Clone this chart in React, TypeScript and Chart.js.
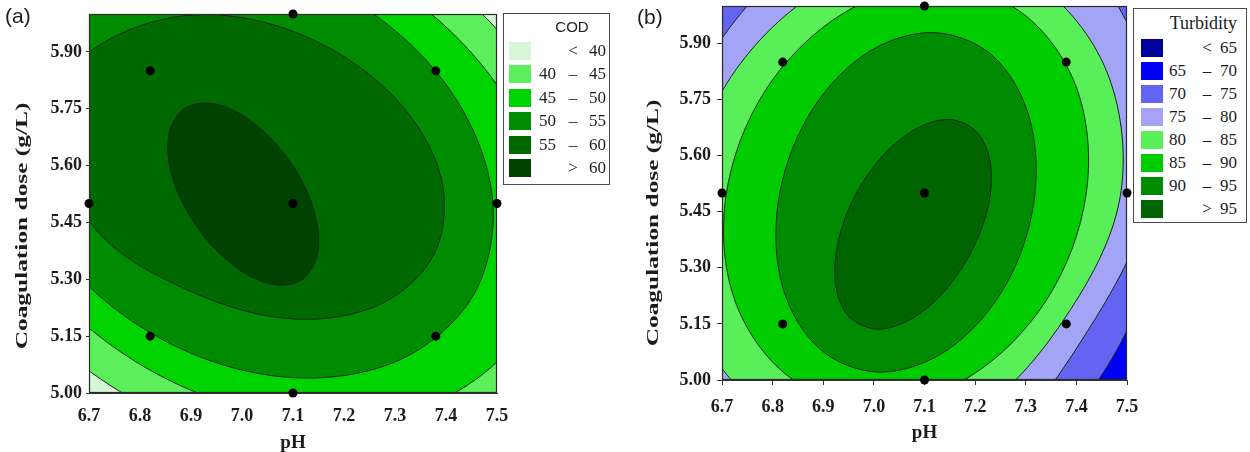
import React, { useEffect, useRef } from 'react';
import { Chart, registerables } from 'chart.js';

Chart.register(...registerables);

// ---------------- data ----------------
const PH_TICKS = [6.7, 6.8, 6.9, 7.0, 7.1, 7.2, 7.3, 7.4, 7.5];
const DOSE_TICKS = [5.0, 5.15, 5.3, 5.45, 5.6, 5.75, 5.9];
const PH_MIN = 6.7;
const PH_MAX = 7.5;
const DOSE_MIN = 5.0;
const DOSE_MAX = 6.0;
const X_TITLE = 'pH';
const Y_TITLE = 'Coagulation dose (g/L)';

const DESIGN_PH = [6.7, 6.82, 6.82, 7.1, 7.1, 7.1, 7.38, 7.38, 7.5];
const DESIGN_DOSE = [5.5, 5.85, 5.15, 6.0, 5.5, 5.0, 5.85, 5.15, 5.5];

// (a) COD — contour lines [pH, dose]
const COD_BANDS = ['< 40', '40 – 45', '45 – 50', '50 – 55', '55 – 60', '> 60'];
const COD_COLORS = ['#d6f7d6', '#5cef5c', '#00d400', '#008c00', '#006a00', '#004200'];
const COD_40 = [[7.625, 5.127], [7.418, 4.889], [7.108, 4.839], [6.778, 4.99], [6.517, 5.301], [6.394, 5.689], [6.442, 6.05], [6.649, 6.288], [6.959, 6.338], [7.289, 6.187], [7.551, 5.876], [7.674, 5.488]];
const COD_45 = [[7.558, 5.179], [7.376, 4.974], [7.103, 4.933], [6.811, 5.067], [6.579, 5.342], [6.469, 5.682], [6.51, 5.997], [6.691, 6.203], [6.964, 6.244], [7.256, 6.109], [7.488, 5.835], [7.599, 5.495]];
const COD_50 = [[7.454, 5.259], [7.3, 5.082], [7.069, 5.044], [6.824, 5.156], [6.63, 5.387], [6.539, 5.676], [6.575, 5.945], [6.729, 6.121], [6.959, 6.159], [7.204, 6.047], [7.399, 5.816], [7.49, 5.527]];
const COD_55 = [[7.379, 5.373], [7.274, 5.236], [7.103, 5.195], [6.91, 5.262], [6.725, 5.414], [6.638, 5.636], [6.647, 5.826], [6.777, 5.957], [6.949, 5.998], [7.141, 5.931], [7.303, 5.774], [7.39, 5.57]];
const COD_60 = [[7.119, 5.3], [7.058, 5.287], [6.982, 5.338], [6.911, 5.439], [6.865, 5.563], [6.856, 5.677], [6.886, 5.75], [6.947, 5.763], [7.023, 5.712], [7.094, 5.611], [7.14, 5.487], [7.149, 5.374]];

// (b) Turbidity — contour lines [pH, dose]
const TURB_BANDS = ['< 65', '65 – 70', '70 – 75', '75 – 80', '80 – 85', '85 – 90', '90 – 95', '> 95'];
const TURB_COLORS = ['#00009c', '#0000f4', '#6464f2', '#a4a4f6', '#58ef58', '#00cc00', '#008c00', '#006400'];
const TURB_70 = [[7.565, 5.441], [7.529, 5.935], [7.368, 6.257], [7.12, 6.376], [6.851, 6.257], [6.633, 5.935], [6.524, 5.494], [6.554, 5.053], [6.715, 4.731], [6.964, 4.613], [7.233, 4.731], [7.459, 5.032]];
const TURB_75 = [[7.545, 5.494], [7.523, 5.881], [7.376, 6.165], [7.146, 6.269], [6.892, 6.165], [6.684, 5.881], [6.578, 5.494], [6.6, 5.107], [6.747, 4.823], [6.977, 4.72], [7.231, 4.823], [7.417, 5.12]];
const TURB_80 = [[7.486, 5.486], [7.464, 5.811], [7.332, 6.048], [7.126, 6.135], [6.901, 6.048], [6.718, 5.811], [6.625, 5.486], [6.647, 5.162], [6.779, 4.924], [6.985, 4.837], [7.21, 4.924], [7.38, 5.171]];
const TURB_85 = [[7.419, 5.494], [7.402, 5.775], [7.294, 5.98], [7.124, 6.055], [6.939, 5.98], [6.786, 5.775], [6.708, 5.494], [6.725, 5.214], [6.833, 5.008], [7.002, 4.933], [7.188, 5.008], [7.341, 5.214]];
const TURB_90 = [[7.316, 5.475], [7.307, 5.702], [7.233, 5.869], [7.113, 5.929], [6.98, 5.869], [6.869, 5.702], [6.811, 5.475], [6.82, 5.248], [6.894, 5.082], [7.014, 5.021], [7.147, 5.082], [7.258, 5.248]];
const TURB_95 = [[7.216, 5.417], [7.232, 5.557], [7.206, 5.659], [7.146, 5.697], [7.068, 5.659], [6.992, 5.557], [6.939, 5.417], [6.923, 5.276], [6.948, 5.174], [7.008, 5.136], [7.087, 5.174], [7.162, 5.276]];

// ---------------- rendering ----------------
const SERIF = '"Liberation Serif", "Times New Roman", serif';
const SANS = '"Liberation Sans", Arial, sans-serif';
const TEXT = '#1c1c1c';
const LINE = '#142814';

type PanelSpec = {
  width: number;
  height: number;
  padRight: number;
  padTop: number;
  yAxisW: number;
  xAxisH: number;
  base: string;
  contours: number[][][];
  fills: string[];
  xTickLen: number;
  xTickPad: number;
  yTickLen: number;
  yTickPad: number;
  xTitlePad: number;
  yTitleX: number;
  yTitleY: number;
};

const closedLoops = {
  id: 'closedLoops',
  afterDatasetsUpdate(chart: any) {
    chart.data.datasets.forEach((ds: any, i: number) => {
      if (!ds.closed) return;
      const line: any = chart.getDatasetMeta(i).dataset;
      if (!line) return;
      line._loop = true;
      line._fullLoop = true;
      line._pointsUpdated = false;
      delete line._segments;
      delete line._path;
    });
  },
};

function buildConfig(p: PanelSpec): any {
  const datasets: any[] = [];
  datasets.push({
    type: 'line',
    data: DESIGN_PH.map((x, i) => ({ x, y: DESIGN_DOSE[i] })),
    showLine: false,
    pointRadius: 4.5,
    pointHoverRadius: 4.5,
    pointBackgroundColor: '#000',
    pointBorderColor: '#000',
    pointBorderWidth: 0,
    clip: false,
  });
  for (let i = p.contours.length - 1; i >= 0; i--) {
    datasets.push({
      type: 'line',
      data: p.contours[i].map(([x, y]) => ({ x, y })),
      fill: 'shape',
      backgroundColor: p.fills[i],
      borderColor: LINE,
      borderWidth: 1,
      pointRadius: 0,
      pointHoverRadius: 0,
      tension: 0.34,
      closed: true,
    });
  }

  const areaPlugin = {
    id: 'areaBase',
    beforeDatasetsDraw(chart: any) {
      const { ctx, chartArea: a } = chart;
      ctx.save();
      ctx.fillStyle = p.base;
      ctx.fillRect(a.left, a.top, a.right - a.left, a.bottom - a.top);
      ctx.restore();
    },
    afterDatasetDraw(chart: any, args: any) {
      if (args.index !== 1) return;
      const { ctx, chartArea: a } = chart;
      ctx.save();
      ctx.strokeStyle = '#2a2a2a';
      ctx.lineWidth = 1.2;
      ctx.strokeRect(a.left + 0.5, a.top + 0.5, a.right - a.left - 1, a.bottom - a.top - 1);
      ctx.restore();
    },
    afterDraw(chart: any) {
      const { ctx } = chart;
      ctx.save();
      ctx.translate(p.yTitleX, p.yTitleY);
      ctx.rotate(-Math.PI / 2);
      ctx.scale(1.45, 1);
      ctx.font = `bold 17.5px ${SERIF}`;
      ctx.fillStyle = TEXT;
      ctx.textAlign = 'center';
      ctx.textBaseline = 'middle';
      ctx.fillText(Y_TITLE, 0, 0);
      ctx.restore();
    },
  };

  const tickFont = { family: SERIF, size: 18, weight: 'bold' as const };

  return {
    type: 'line',
    data: { datasets },
    plugins: [closedLoops, areaPlugin],
    options: {
      responsive: false,
      animation: false,
      events: [],
      layout: { padding: { left: 0, right: p.padRight, top: p.padTop, bottom: 0 } },
      elements: { line: { capBezierPoints: false } },
      plugins: { legend: { display: false }, tooltip: { enabled: false } },
      scales: {
        x: {
          type: 'linear',
          min: PH_MIN,
          max: PH_MAX,
          afterBuildTicks: (ax: any) => {
            ax.ticks = PH_TICKS.map((v) => ({ value: v }));
          },
          afterFit: (ax: any) => {
            ax.height = p.xAxisH;
            ax.paddingLeft = 0;
            ax.paddingRight = 0;
          },
          ticks: {
            callback: (v: any) => Number(v).toFixed(1),
            font: tickFont,
            color: TEXT,
            padding: p.xTickPad,
            autoSkip: false,
            maxRotation: 0,
          },
          grid: {
            display: true,
            drawOnChartArea: false,
            drawTicks: p.xTickLen > 0,
            tickLength: p.xTickLen,
            color: '#333',
          },
          border: { display: true, color: '#333' },
          title: {
            display: true,
            text: X_TITLE,
            color: TEXT,
            font: { family: SERIF, size: 19, weight: 'bold' },
            padding: { top: 0, bottom: p.xTitlePad },
          },
        },
        y: {
          type: 'linear',
          min: DOSE_MIN,
          max: DOSE_MAX,
          afterBuildTicks: (ax: any) => {
            ax.ticks = DOSE_TICKS.map((v) => ({ value: v }));
          },
          afterFit: (ax: any) => {
            ax.width = p.yAxisW;
            ax.paddingTop = 0;
            ax.paddingBottom = 0;
          },
          ticks: {
            callback: (v: any) => Number(v).toFixed(2),
            font: tickFont,
            color: TEXT,
            padding: p.yTickPad,
            autoSkip: false,
          },
          grid: {
            display: true,
            drawOnChartArea: false,
            drawTicks: true,
            tickLength: p.yTickLen,
            color: '#333',
          },
          border: { display: true, color: '#333' },
          title: { display: false },
        },
      },
    },
  };
}

const PANEL_A: PanelSpec = {
  width: 620,
  height: 452,
  padRight: 123,
  padTop: 14,
  yAxisW: 89,
  xAxisH: 59,
  base: COD_COLORS[0],
  contours: [COD_40, COD_45, COD_50, COD_55, COD_60],
  fills: COD_COLORS.slice(1),
  xTickLen: 0,
  xTickPad: 13,
  yTickLen: 3,
  yTickPad: 4,
  xTitlePad: -2,
  yTitleX: 22,
  yTitleY: 226,
};

const PANEL_B: PanelSpec = {
  width: 630,
  height: 452,
  padRight: 123,
  padTop: 6,
  yAxisW: 102,
  xAxisH: 72,
  base: TURB_COLORS[1],
  contours: [TURB_70, TURB_75, TURB_80, TURB_85, TURB_90, TURB_95],
  fills: TURB_COLORS.slice(2),
  xTickLen: 5,
  xTickPad: 12,
  yTickLen: 5,
  yTickPad: 6,
  xTitlePad: 8,
  yTitleX: 33,
  yTitleY: 223,
};

function ContourPanel({ spec, left }: { spec: PanelSpec; left: number }) {
  const ref = useRef<HTMLCanvasElement | null>(null);
  useEffect(() => {
    if (!ref.current) return;
    const chart = new Chart(ref.current, buildConfig(spec));
    return () => chart.destroy();
  }, [spec]);
  return (
    <canvas
      ref={ref}
      width={spec.width}
      height={spec.height}
      style={{ position: 'absolute', left, top: 0, width: spec.width, height: spec.height }}
    />
  );
}

type LegendProps = {
  left: number;
  top: number;
  width: number;
  height: number;
  title: string;
  titleFont: string;
  titleSize: number;
  titleRight?: number;
  titleCenter?: number;
  titleY: number;
  bands: string[];
  colors: string[];
  swatchX: number;
  rowY0: number;
  rowStep: number;
  col1: number;
  colSym: number;
  col3: number;
};

function BandLegend(p: LegendProps) {
  const lh = 20;
  const txt = { position: 'absolute' as const, fontFamily: SERIF, fontSize: 17, lineHeight: `${lh}px`, color: TEXT, whiteSpace: 'nowrap' as const };
  return (
    <div
      style={{
        position: 'absolute',
        left: p.left,
        top: p.top,
        width: p.width,
        height: p.height,
        boxSizing: 'border-box',
        border: '1.5px solid #4a4a4a',
        background: '#fff',
      }}
    >
      <div
        style={{
          position: 'absolute',
          top: p.titleY - 11,
          lineHeight: '22px',
          fontFamily: p.titleFont,
          fontSize: p.titleSize,
          color: TEXT,
          whiteSpace: 'nowrap',
          ...(p.titleRight !== undefined
            ? { right: p.width - p.titleRight }
            : { left: p.titleCenter, transform: 'translateX(-50%)' }),
        }}
      >
        {p.title}
      </div>
      {p.bands.map((band, i) => {
        const cy = p.rowY0 + i * p.rowStep;
        const parts = band.split(' ');
        const hasTwo = parts.length === 3;
        const sym = hasTwo ? parts[1] : parts[0];
        const a = hasTwo ? parts[0] : '';
        const b = hasTwo ? parts[2] : parts[1];
        return (
          <React.Fragment key={band}>
            <div
              style={{
                position: 'absolute',
                left: p.swatchX,
                top: cy - 9,
                width: 22,
                height: 18,
                background: p.colors[i],
              }}
            />
            {a && <div style={{ ...txt, top: cy - lh / 2, right: p.width - p.col1 }}>{a}</div>}
            <div style={{ ...txt, top: cy - lh / 2, left: p.colSym, transform: 'translateX(-50%)' }}>{sym}</div>
            <div style={{ ...txt, top: cy - lh / 2, right: p.width - p.col3 }}>{b}</div>
          </React.Fragment>
        );
      })}
    </div>
  );
}

export default function App() {
  return (
    <div style={{ position: 'absolute', left: 0, top: 0, width: 1250, height: 452, background: '#fff', overflow: 'hidden' }}>
      <ContourPanel spec={PANEL_A} left={0} />
      <ContourPanel spec={PANEL_B} left={620} />
      <div style={{ position: 'absolute', left: 5, top: 4, fontFamily: SANS, fontSize: 21, lineHeight: '24px', color: TEXT }}>(a)</div>
      <div style={{ position: 'absolute', left: 637, top: 5, fontFamily: SANS, fontSize: 21, lineHeight: '24px', color: TEXT }}>(b)</div>
      <BandLegend
        left={503}
        top={13}
        width={107}
        height={172}
        title="COD"
        titleFont={SANS}
        titleSize={15}
        titleCenter={68}
        titleY={13}
        bands={COD_BANDS}
        colors={COD_COLORS}
        swatchX={5}
        rowY0={37}
        rowStep={23.4}
        col1={54}
        colSym={69}
        col3={104}
      />
      <BandLegend
        left={1133}
        top={8}
        width={114}
        height={215}
        title="Turbidity"
        titleFont={SERIF}
        titleSize={18}
        titleRight={105}
        titleY={14}
        bands={TURB_BANDS}
        colors={TURB_COLORS}
        swatchX={7}
        rowY0={39}
        rowStep={23}
        col1={54}
        colSym={73}
        col3={105}
      />
    </div>
  );
}
